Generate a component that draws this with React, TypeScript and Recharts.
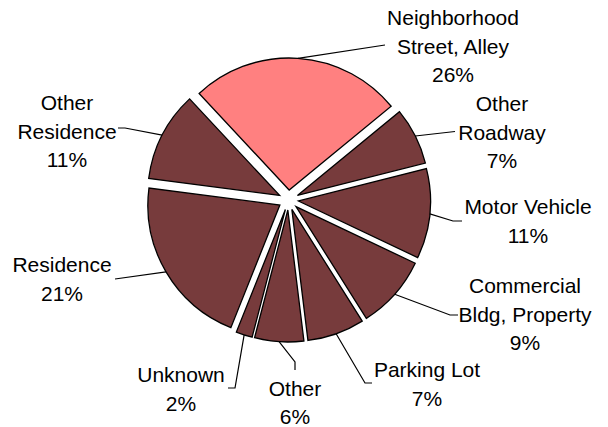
import { Cell, Pie, PieChart, Sector } from "recharts"

// Location of incident, share of total (%), clockwise from the upper-left edge of the first slice
const categories = [
  "Neighborhood\nStreet, Alley",
  "Other\nRoadway",
  "Motor Vehicle",
  "Commercial\nBldg, Property",
  "Parking Lot",
  "Other",
  "Unknown",
  "Residence",
  "Other\nResidence",
]
const shares = [26, 7, 11, 9, 7, 6, 2, 21, 11]

const data = categories.map((name, i) => ({ name, value: shares[i] }))

const RADIAN = Math.PI / 180
const EXPLODE = 10
const DARK = "#773b3c"
const HIGHLIGHT = "#ff8080"
const LINE_H = 28.5

// where each label sits (text centre x, first baseline y) and the bend of its leader line
const labelSpots: { x: number; y: number; leader: [number, number][] }[] = [
  { x: 453, y: 25, leader: [[385, 45]] },
  { x: 502, y: 111, leader: [[455, 131.5]] },
  { x: 528, y: 214, leader: [[453, 221], [462, 221]] },
  { x: 525, y: 293, leader: [[450, 315], [458, 315]] },
  { x: 427, y: 377, leader: [[365, 383], [372, 383]] },
  { x: 295, y: 395.5, leader: [[295, 362], [295, 370]] },
  { x: 181, y: 382, leader: [[235, 388], [228, 388]] },
  { x: 62, y: 272, leader: [[115, 279]] },
  { x: 67, y: 110, leader: [[125, 128], [118, 128]] },
]

const ExplodedSector = (props: any) => {
  const { cx, cy, midAngle } = props
  const dx = EXPLODE * Math.cos(-midAngle * RADIAN)
  const dy = EXPLODE * Math.sin(-midAngle * RADIAN)
  return <Sector {...props} cx={cx + dx} cy={cy + dy} />
}

const renderLabel = (props: any) => {
  const { cx, cy, midAngle, outerRadius, index } = props
  const spot = labelSpots[index]
  const r = outerRadius + EXPLODE
  const sx = cx + r * Math.cos(-midAngle * RADIAN)
  const sy = cy + r * Math.sin(-midAngle * RADIAN)
  const pts = [[sx, sy], ...spot.leader].map((p) => p.join(",")).join(" ")
  const lines = [...categories[index].split("\n"), `${shares[index]}%`]
  return (
    <g key={`label-${index}`}>
      <polyline points={pts} fill="none" stroke="#000" strokeWidth={1.2} />
      <text
        x={spot.x}
        y={spot.y}
        textAnchor="middle"
        fontFamily="'Liberation Sans', Arial, sans-serif"
        fontSize={21}
        fill="#000"
      >
        {lines.map((line, i) => (
          <tspan key={i} x={spot.x} y={spot.y + i * LINE_H}>
            {line}
          </tspan>
        ))}
      </text>
    </g>
  )
}

export default function App() {
  return (
    <div style={{ position: "absolute", left: 0, top: 0, background: "#fff" }}>
      <PieChart width={608} height={427} margin={{ top: 0, right: 0, bottom: 0, left: 0 }}>
        <Pie
          data={data}
          dataKey="value"
          nameKey="name"
          cx={288.5}
          cy={200}
          outerRadius={132}
          startAngle={133}
          endAngle={-227}
          stroke="#000"
          strokeWidth={1.3}
          shape={ExplodedSector}
          label={renderLabel}
          labelLine={false}
          isAnimationActive={false}
        >
          {data.map((_, i) => (
            <Cell key={i} fill={i === 0 ? HIGHLIGHT : DARK} />
          ))}
        </Pie>
      </PieChart>
    </div>
  )
}
